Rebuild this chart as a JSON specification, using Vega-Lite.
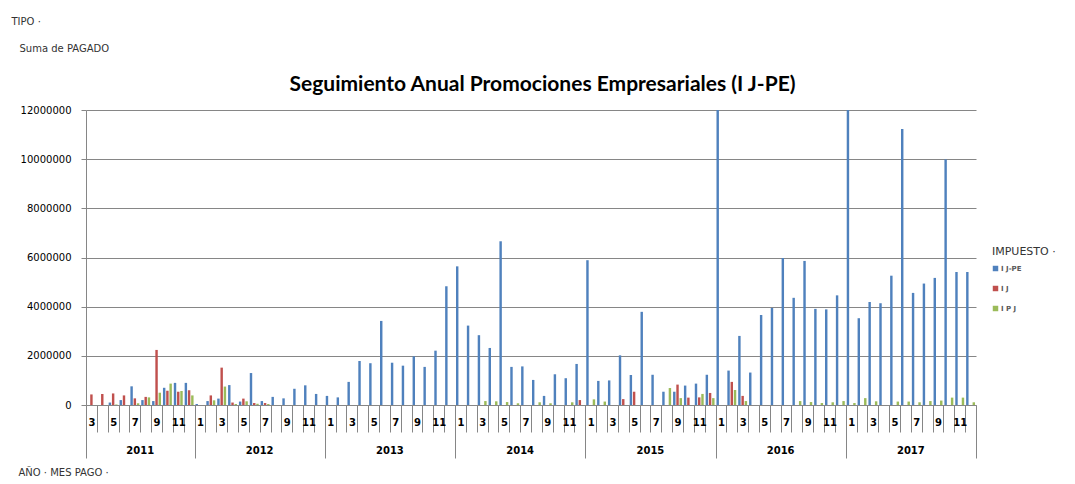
{
  "$schema": "https://vega.github.io/schema/vega-lite/v6.json",
  "width": 890,
  "height": 295,
  "padding": {"left": 11, "top": 16, "right": 5, "bottom": 2},
  "background": "white",
  "datasets": {
    "pagos": [
      {"mes":"2011-05","impuesto":"I J-PE","pagado":100000},
      {"mes":"2011-06","impuesto":"I J-PE","pagado":200000},
      {"mes":"2011-07","impuesto":"I J-PE","pagado":760000},
      {"mes":"2011-08","impuesto":"I J-PE","pagado":200000},
      {"mes":"2011-09","impuesto":"I J-PE","pagado":160000},
      {"mes":"2011-10","impuesto":"I J-PE","pagado":700000},
      {"mes":"2011-11","impuesto":"I J-PE","pagado":900000},
      {"mes":"2011-12","impuesto":"I J-PE","pagado":900000},
      {"mes":"2012-01","impuesto":"I J-PE","pagado":40000},
      {"mes":"2012-02","impuesto":"I J-PE","pagado":160000},
      {"mes":"2012-03","impuesto":"I J-PE","pagado":260000},
      {"mes":"2012-04","impuesto":"I J-PE","pagado":810000},
      {"mes":"2012-05","impuesto":"I J-PE","pagado":140000},
      {"mes":"2012-06","impuesto":"I J-PE","pagado":1300000},
      {"mes":"2012-07","impuesto":"I J-PE","pagado":160000},
      {"mes":"2012-08","impuesto":"I J-PE","pagado":330000},
      {"mes":"2012-09","impuesto":"I J-PE","pagado":270000},
      {"mes":"2012-10","impuesto":"I J-PE","pagado":660000},
      {"mes":"2012-11","impuesto":"I J-PE","pagado":800000},
      {"mes":"2012-12","impuesto":"I J-PE","pagado":450000},
      {"mes":"2013-01","impuesto":"I J-PE","pagado":370000},
      {"mes":"2013-02","impuesto":"I J-PE","pagado":310000},
      {"mes":"2013-03","impuesto":"I J-PE","pagado":940000},
      {"mes":"2013-04","impuesto":"I J-PE","pagado":1790000},
      {"mes":"2013-05","impuesto":"I J-PE","pagado":1700000},
      {"mes":"2013-06","impuesto":"I J-PE","pagado":3420000},
      {"mes":"2013-07","impuesto":"I J-PE","pagado":1720000},
      {"mes":"2013-08","impuesto":"I J-PE","pagado":1600000},
      {"mes":"2013-09","impuesto":"I J-PE","pagado":1980000},
      {"mes":"2013-10","impuesto":"I J-PE","pagado":1550000},
      {"mes":"2013-11","impuesto":"I J-PE","pagado":2210000},
      {"mes":"2013-12","impuesto":"I J-PE","pagado":4830000},
      {"mes":"2014-01","impuesto":"I J-PE","pagado":5640000},
      {"mes":"2014-02","impuesto":"I J-PE","pagado":3230000},
      {"mes":"2014-03","impuesto":"I J-PE","pagado":2840000},
      {"mes":"2014-04","impuesto":"I J-PE","pagado":2320000},
      {"mes":"2014-05","impuesto":"I J-PE","pagado":6660000},
      {"mes":"2014-06","impuesto":"I J-PE","pagado":1550000},
      {"mes":"2014-07","impuesto":"I J-PE","pagado":1570000},
      {"mes":"2014-08","impuesto":"I J-PE","pagado":1020000},
      {"mes":"2014-09","impuesto":"I J-PE","pagado":370000},
      {"mes":"2014-10","impuesto":"I J-PE","pagado":1250000},
      {"mes":"2014-11","impuesto":"I J-PE","pagado":1090000},
      {"mes":"2014-12","impuesto":"I J-PE","pagado":1670000},
      {"mes":"2015-01","impuesto":"I J-PE","pagado":5890000},
      {"mes":"2015-02","impuesto":"I J-PE","pagado":980000},
      {"mes":"2015-03","impuesto":"I J-PE","pagado":1000000},
      {"mes":"2015-04","impuesto":"I J-PE","pagado":2020000},
      {"mes":"2015-05","impuesto":"I J-PE","pagado":1220000},
      {"mes":"2015-06","impuesto":"I J-PE","pagado":3790000},
      {"mes":"2015-07","impuesto":"I J-PE","pagado":1230000},
      {"mes":"2015-08","impuesto":"I J-PE","pagado":540000},
      {"mes":"2015-09","impuesto":"I J-PE","pagado":540000},
      {"mes":"2015-10","impuesto":"I J-PE","pagado":790000},
      {"mes":"2015-11","impuesto":"I J-PE","pagado":870000},
      {"mes":"2015-12","impuesto":"I J-PE","pagado":1230000},
      {"mes":"2016-01","impuesto":"I J-PE","pagado":12000000},
      {"mes":"2016-02","impuesto":"I J-PE","pagado":1400000},
      {"mes":"2016-03","impuesto":"I J-PE","pagado":2810000},
      {"mes":"2016-04","impuesto":"I J-PE","pagado":1320000},
      {"mes":"2016-05","impuesto":"I J-PE","pagado":3660000},
      {"mes":"2016-06","impuesto":"I J-PE","pagado":3950000},
      {"mes":"2016-07","impuesto":"I J-PE","pagado":5980000},
      {"mes":"2016-08","impuesto":"I J-PE","pagado":4360000},
      {"mes":"2016-09","impuesto":"I J-PE","pagado":5860000},
      {"mes":"2016-10","impuesto":"I J-PE","pagado":3910000},
      {"mes":"2016-11","impuesto":"I J-PE","pagado":3890000},
      {"mes":"2016-12","impuesto":"I J-PE","pagado":4460000},
      {"mes":"2017-01","impuesto":"I J-PE","pagado":12000000},
      {"mes":"2017-02","impuesto":"I J-PE","pagado":3530000},
      {"mes":"2017-03","impuesto":"I J-PE","pagado":4190000},
      {"mes":"2017-04","impuesto":"I J-PE","pagado":4140000},
      {"mes":"2017-05","impuesto":"I J-PE","pagado":5260000},
      {"mes":"2017-06","impuesto":"I J-PE","pagado":11230000},
      {"mes":"2017-07","impuesto":"I J-PE","pagado":4560000},
      {"mes":"2017-08","impuesto":"I J-PE","pagado":4940000},
      {"mes":"2017-09","impuesto":"I J-PE","pagado":5170000},
      {"mes":"2017-10","impuesto":"I J-PE","pagado":9990000},
      {"mes":"2017-11","impuesto":"I J-PE","pagado":5410000},
      {"mes":"2017-12","impuesto":"I J-PE","pagado":5410000},
      {"mes":"2011-03","impuesto":"I J","pagado":430000},
      {"mes":"2011-04","impuesto":"I J","pagado":450000},
      {"mes":"2011-05","impuesto":"I J","pagado":470000},
      {"mes":"2011-06","impuesto":"I J","pagado":390000},
      {"mes":"2011-07","impuesto":"I J","pagado":270000},
      {"mes":"2011-08","impuesto":"I J","pagado":330000},
      {"mes":"2011-09","impuesto":"I J","pagado":2240000},
      {"mes":"2011-10","impuesto":"I J","pagado":580000},
      {"mes":"2011-11","impuesto":"I J","pagado":540000},
      {"mes":"2011-12","impuesto":"I J","pagado":600000},
      {"mes":"2012-02","impuesto":"I J","pagado":390000},
      {"mes":"2012-03","impuesto":"I J","pagado":1520000},
      {"mes":"2012-04","impuesto":"I J","pagado":100000},
      {"mes":"2012-05","impuesto":"I J","pagado":260000},
      {"mes":"2012-06","impuesto":"I J","pagado":80000},
      {"mes":"2012-07","impuesto":"I J","pagado":80000},
      {"mes":"2014-12","impuesto":"I J","pagado":200000},
      {"mes":"2015-04","impuesto":"I J","pagado":240000},
      {"mes":"2015-05","impuesto":"I J","pagado":540000},
      {"mes":"2015-09","impuesto":"I J","pagado":830000},
      {"mes":"2015-10","impuesto":"I J","pagado":300000},
      {"mes":"2015-11","impuesto":"I J","pagado":310000},
      {"mes":"2015-12","impuesto":"I J","pagado":490000},
      {"mes":"2016-02","impuesto":"I J","pagado":940000},
      {"mes":"2016-03","impuesto":"I J","pagado":370000},
      {"mes":"2011-05","impuesto":"I P J","pagado":20000},
      {"mes":"2011-07","impuesto":"I P J","pagado":70000},
      {"mes":"2011-08","impuesto":"I P J","pagado":310000},
      {"mes":"2011-09","impuesto":"I P J","pagado":500000},
      {"mes":"2011-10","impuesto":"I P J","pagado":870000},
      {"mes":"2011-11","impuesto":"I P J","pagado":570000},
      {"mes":"2011-12","impuesto":"I P J","pagado":390000},
      {"mes":"2012-02","impuesto":"I P J","pagado":190000},
      {"mes":"2012-03","impuesto":"I P J","pagado":750000},
      {"mes":"2012-04","impuesto":"I P J","pagado":40000},
      {"mes":"2012-05","impuesto":"I P J","pagado":150000},
      {"mes":"2012-06","impuesto":"I P J","pagado":50000},
      {"mes":"2012-07","impuesto":"I P J","pagado":40000},
      {"mes":"2014-03","impuesto":"I P J","pagado":160000},
      {"mes":"2014-04","impuesto":"I P J","pagado":150000},
      {"mes":"2014-05","impuesto":"I P J","pagado":120000},
      {"mes":"2014-06","impuesto":"I P J","pagado":70000},
      {"mes":"2014-08","impuesto":"I P J","pagado":110000},
      {"mes":"2014-09","impuesto":"I P J","pagado":70000},
      {"mes":"2014-11","impuesto":"I P J","pagado":110000},
      {"mes":"2015-01","impuesto":"I P J","pagado":230000},
      {"mes":"2015-02","impuesto":"I P J","pagado":140000},
      {"mes":"2015-08","impuesto":"I P J","pagado":690000},
      {"mes":"2015-09","impuesto":"I P J","pagado":280000},
      {"mes":"2015-11","impuesto":"I P J","pagado":450000},
      {"mes":"2015-12","impuesto":"I P J","pagado":280000},
      {"mes":"2016-02","impuesto":"I P J","pagado":610000},
      {"mes":"2016-03","impuesto":"I P J","pagado":160000},
      {"mes":"2016-08","impuesto":"I P J","pagado":160000},
      {"mes":"2016-09","impuesto":"I P J","pagado":120000},
      {"mes":"2016-10","impuesto":"I P J","pagado":80000},
      {"mes":"2016-11","impuesto":"I P J","pagado":110000},
      {"mes":"2016-12","impuesto":"I P J","pagado":160000},
      {"mes":"2017-01","impuesto":"I P J","pagado":80000},
      {"mes":"2017-02","impuesto":"I P J","pagado":280000},
      {"mes":"2017-03","impuesto":"I P J","pagado":150000},
      {"mes":"2017-05","impuesto":"I P J","pagado":140000},
      {"mes":"2017-06","impuesto":"I P J","pagado":140000},
      {"mes":"2017-07","impuesto":"I P J","pagado":110000},
      {"mes":"2017-08","impuesto":"I P J","pagado":160000},
      {"mes":"2017-09","impuesto":"I P J","pagado":180000},
      {"mes":"2017-10","impuesto":"I P J","pagado":300000},
      {"mes":"2017-11","impuesto":"I P J","pagado":300000},
      {"mes":"2017-12","impuesto":"I P J","pagado":110000}
    ],
    "anios": [
      {"mes":"2011-07","anio":"2011"},
      {"mes":"2012-06","anio":"2012"},
      {"mes":"2013-06","anio":"2013"},
      {"mes":"2014-06","anio":"2014"},
      {"mes":"2015-06","anio":"2015"},
      {"mes":"2016-06","anio":"2016"},
      {"mes":"2017-06","anio":"2017"}
    ]
  },
  "layer": [
    {
      "data": {"name": "pagos"},
      "mark": {"type": "bar", "clip": true},
      "encoding": {
        "x": {
          "field": "mes", "type": "ordinal",
          "scale": {"paddingInner": 0, "paddingOuter": 0},
          "axis": {
            "orient": "bottom",
            "tickBand": "extent",
            "tickColor": "#868686",
            "tickSize": {"condition": {"test": "datum.index < 0 || slice('' + datum.label, 5) == '12'", "value": 53}, "value": 27},
            "domainColor": "#868686",
            "labelAngle": 0,
            "labelExpr": "toNumber(slice('' + datum.label, 5)) % 2 == 1 ? '' + toNumber(slice('' + datum.label, 5)) : ''",
            "labelFont": "DejaVu Sans",
            "labelFontWeight": "bold",
            "labelFontSize": 10,
            "labelColor": "#000000",
            "labelPadding": -10,
            "labelBaseline": "middle",
            "title": "AÑO  ·  MES PAGO  ·",
            "titleX": -68,
            "titleY": 67,
            "titleAlign": "left",
            "titleBaseline": "middle",
            "titleFont": "DejaVu Sans",
            "titleFontWeight": "normal",
            "titleFontSize": 10,
            "titleColor": "#333333"
          }
        },
        "xOffset": {
          "field": "impuesto", "type": "nominal",
          "scale": {"domain": ["I J-PE", "I J", "I P J"], "paddingInner": 0.25, "paddingOuter": 0.3}
        },
        "y": {
          "field": "pagado", "type": "quantitative",
          "scale": {"domain": [0, 12000000], "nice": false},
          "axis": {
            "orient": "left",
            "values": [0, 2000000, 4000000, 6000000, 8000000, 10000000, 12000000],
            "format": "d",
            "grid": true,
            "gridColor": "#868686",
            "gridOpacity": 1,
            "domainColor": "#868686",
            "tickColor": "#868686",
            "tickSize": 5,
            "labelFont": "DejaVu Sans",
            "labelFontSize": 10,
            "labelColor": "#000000",
            "labelPadding": 10,
            "title": "Suma de PAGADO",
            "titleAngle": 0,
            "titleX": -67,
            "titleY": -62,
            "titleAlign": "left",
            "titleBaseline": "middle",
            "titleFont": "DejaVu Sans",
            "titleFontWeight": "normal",
            "titleFontSize": 10,
            "titleColor": "#333333"
          }
        },
        "color": {
          "field": "impuesto", "type": "nominal",
          "scale": {"domain": ["I J-PE", "I J", "I P J"], "range": ["#4F81BD", "#C0504D", "#9BBB59"]},
          "legend": {
            "title": "IMPUESTO  ·",
            "orient": "none",
            "legendX": 906,
            "legendY": 136,
            "titleFont": "DejaVu Sans",
            "titleFontSize": 11,
            "titleFontWeight": "normal",
            "titleColor": "#333333",
            "titlePadding": 8,
            "labelFont": "DejaVu Sans",
            "labelFontSize": 7,
            "labelFontWeight": "bold",
            "labelColor": "#595959",
            "labelOffset": 2,
            "symbolType": "square",
            "symbolSize": 30,
            "symbolStrokeWidth": 0,
            "rowPadding": 12
          }
        }
      }
    },
    {
      "data": {"name": "anios"},
      "mark": {"type": "text", "dy": 46, "font": "DejaVu Sans", "fontWeight": "bold", "fontSize": 10, "color": "#000000", "baseline": "middle", "align": "center"},
      "encoding": {
        "x": {
          "field": "mes", "type": "ordinal", "bandPosition": 1,
          "axis": {
            "orient": "top",
            "labels": false, "ticks": false, "domain": false, "grid": false,
            "title": "Seguimiento Anual Promociones Empresariales (I J-PE)",
            "titleX": 456,
            "titleY": -26,
            "titleAlign": "center",
            "titleBaseline": "middle",
            "titleFont": "Lato",
            "titleFontSize": 21,
            "titleFontWeight": "bold",
            "titleColor": "#000000"
          }
        },
        "y": {
          "datum": 0, "type": "quantitative",
          "axis": {
            "orient": "right",
            "labels": false, "ticks": false, "domain": false, "grid": false,
            "title": "TIPO  ·",
            "titleAngle": 0,
            "titleX": -965,
            "titleY": -89,
            "titleAlign": "left",
            "titleBaseline": "middle",
            "titleFont": "DejaVu Sans",
            "titleFontWeight": "normal",
            "titleFontSize": 10,
            "titleColor": "#333333"
          }
        },
        "text": {"field": "anio"}
      }
    }
  ],
  "resolve": {"axis": {"x": "independent", "y": "independent"}},
  "config": {
    "view": {"stroke": null}
  }
}
